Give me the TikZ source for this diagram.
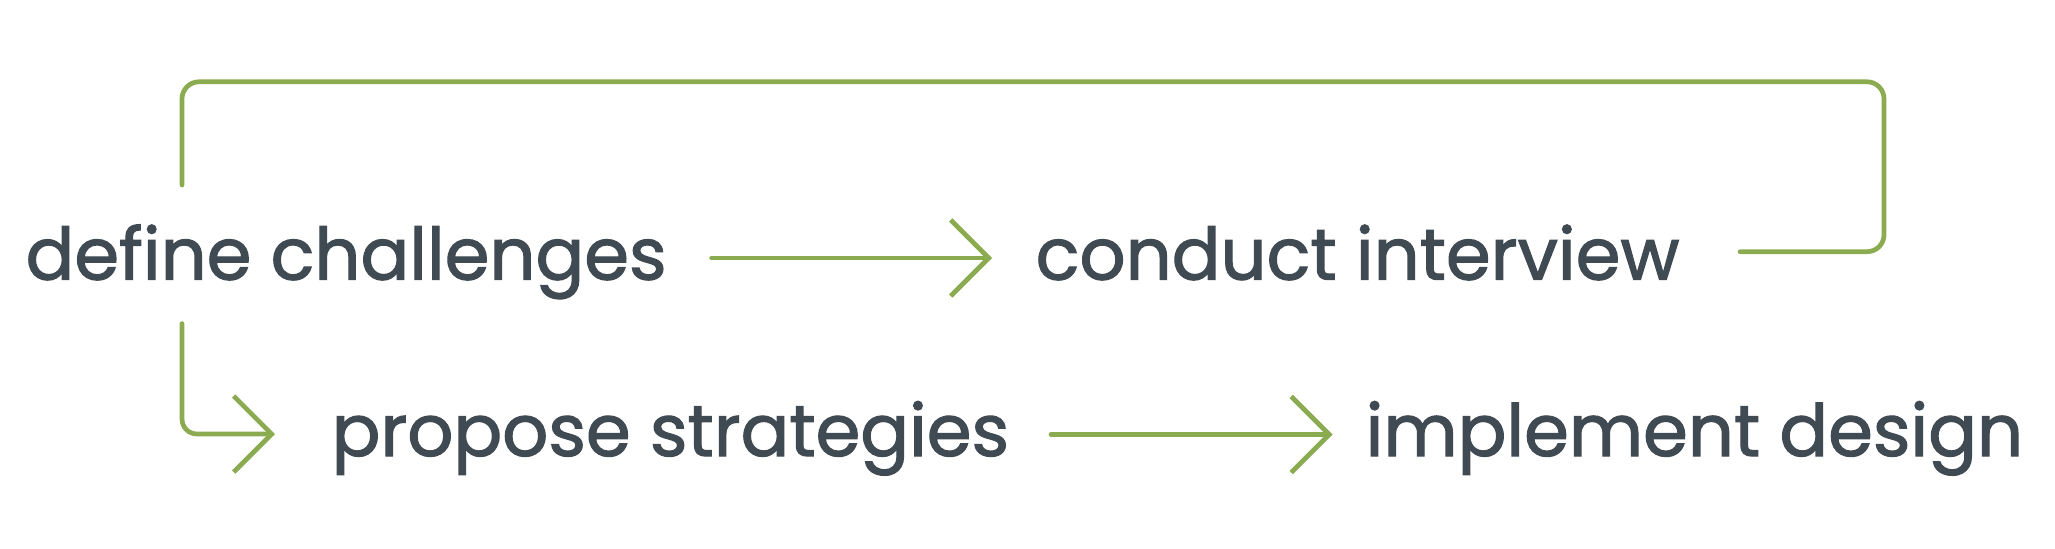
\documentclass[tikz,border=0pt]{standalone}
\usepackage{fontspec}
\setmainfont{Poppins}[FakeBold=1.6]
\usetikzlibrary{arrows.meta,calc}
\definecolor{lgreen}{HTML}{8AAB50}
\definecolor{txt}{HTML}{404A53}
\tikzset{
  lbl/.style={inner sep=0pt, anchor=base west, text=txt, font=\fontsize{20.5pt}{24pt}\selectfont},
  conn/.style={draw=lgreen, line width=0.047cm, line cap=round, line join=round},
  arr/.style={conn, -{Straight Barb[length=0.38cm, width=0.76cm, line join=miter]}}
}
\begin{document}
\begin{tikzpicture}[x=0.01cm, y=-0.01cm]
\useasboundingbox (0,0) rectangle (2055,548);
\node[lbl] (dc) at (25,279.6) {define challenges};
\node[lbl] (ci) at (1035,279.6) {conduct interview};
\node[lbl] (ps) at (331,456) {propose strategies};
\node[lbl] (id) at (1365,456) {implement design};
% loop from conduct interview back over define challenges
\draw[conn, rounded corners=0.17cm] ($(dc.base west)+(157,-94.6)$) |- ($(ci.base west)+(849,-197.8)$) |- ($(ci.base west)+(705,-27.9)$);
% define challenges -> conduct interview
\draw[arr] ($(dc.base west)+(686.6,-21.6)$) -- ($(ci.base west)+(-43,-21.6)$);
% define challenges -> propose strategies
\draw[arr, rounded corners=0.15cm] ($(dc.base west)+(157,44)$) |- ($(ps.base west)+(-56,-22)$);
% propose strategies -> implement design
\draw[arr] ($(ps.base west)+(720,-21.5)$) -- ($(id.base west)+(-32.5,-21.5)$);
\end{tikzpicture}
\end{document}
